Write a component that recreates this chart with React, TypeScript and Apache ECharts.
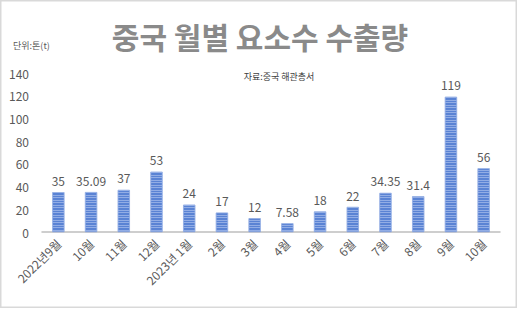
import React, { useEffect, useRef } from "react";
import * as echarts from "echarts";

const categories = ["2022년9월", "10월", "11월", "12월", "2023년 1월", "2월", "3월", "4월", "5월", "6월", "7월", "8월", "9월", "10월"];
const values = [35, 35.09, 37, 53, 24, 17, 12, 7.58, 18, 22, 34.35, 31.4, 119, 56];
const titleText = "중국 월별 요소수 수출량";
const unitText = "단위:톤(t)";
const sourceText = "자료:중국 해관총서";

const FONT = "'Noto Sans CJK KR', 'Noto Sans', sans-serif";

export default function App() {
  const ref = useRef<HTMLDivElement>(null);
  useEffect(() => {
    const chart = echarts.init(ref.current!, null, { renderer: "svg" });
    chart.setOption({
      animation: false,
      backgroundColor: "#ffffff",
      textStyle: { fontFamily: FONT },
      graphic: [
        {
          type: "rect",
          shape: { x: 0.75, y: 0.75, width: 515.5, height: 306.5 },
          style: { fill: "none", stroke: "#d9d9d9", lineWidth: 1.5 },
          silent: true,
        },
        {
          type: "text",
          x: 260,
          y: 36,
          style: {
            text: titleText,
            fontFamily: FONT,
            fontSize: 30,
            fontWeight: "bold",
            fill: "#8a8a8a",
            align: "center",
            verticalAlign: "middle",
          },
        },
        {
          type: "text",
          x: 13,
          y: 45,
          style: {
            text: unitText,
            fontFamily: FONT,
            fontSize: 9,
            fill: "#595959",
            align: "left",
            verticalAlign: "middle",
          },
        },
        {
          type: "text",
          x: 279,
          y: 76,
          style: {
            text: sourceText,
            fontFamily: FONT,
            fontSize: 9,
            fill: "#404040",
            align: "center",
            verticalAlign: "middle",
          },
        },
      ],
      grid: { left: 42, right: 18, top: 73, bottom: 78, containLabel: false },
      xAxis: {
        type: "category",
        data: categories,
        axisLine: { show: true, lineStyle: { color: "#bfbfbf", width: 1.5 } },
        axisTick: { show: false },
        axisLabel: {
          rotate: 45,
          interval: 0,
          fontSize: 12,
          color: "#595959",
          fontFamily: FONT,
          margin: 9,
        },
      },
      yAxis: {
        type: "value",
        min: 0,
        max: 140,
        interval: 20,
        axisLine: { show: false },
        axisTick: { show: false },
        splitLine: { show: false },
        axisLabel: { fontSize: 12, color: "#595959", fontFamily: FONT, margin: 13 },
      },
      series: [
        {
          type: "bar",
          data: values,
          barWidth: 12,
          itemStyle: {
            color: "#5a83d4",
            borderColor: "#8fabe3",
            borderWidth: 0.5,
            decal: {
              symbol: "rect",
              symbolSize: 1,
              dashArrayX: [1, 0],
              dashArrayY: [1, 1, 1, 2],
              color: "rgba(190,208,242,0.55)",
              rotation: 0,
            },
          },
          label: {
            show: true,
            position: "top",
            distance: 6,
            fontSize: 12,
            color: "#595959",
            fontFamily: FONT,
          },
        },
      ],
    });
    return () => chart.dispose();
  }, []);
  return (
    <div
      ref={ref}
      style={{ position: "fixed", left: 0, top: 0, width: 518, height: 310 }}
    />
  );
}
